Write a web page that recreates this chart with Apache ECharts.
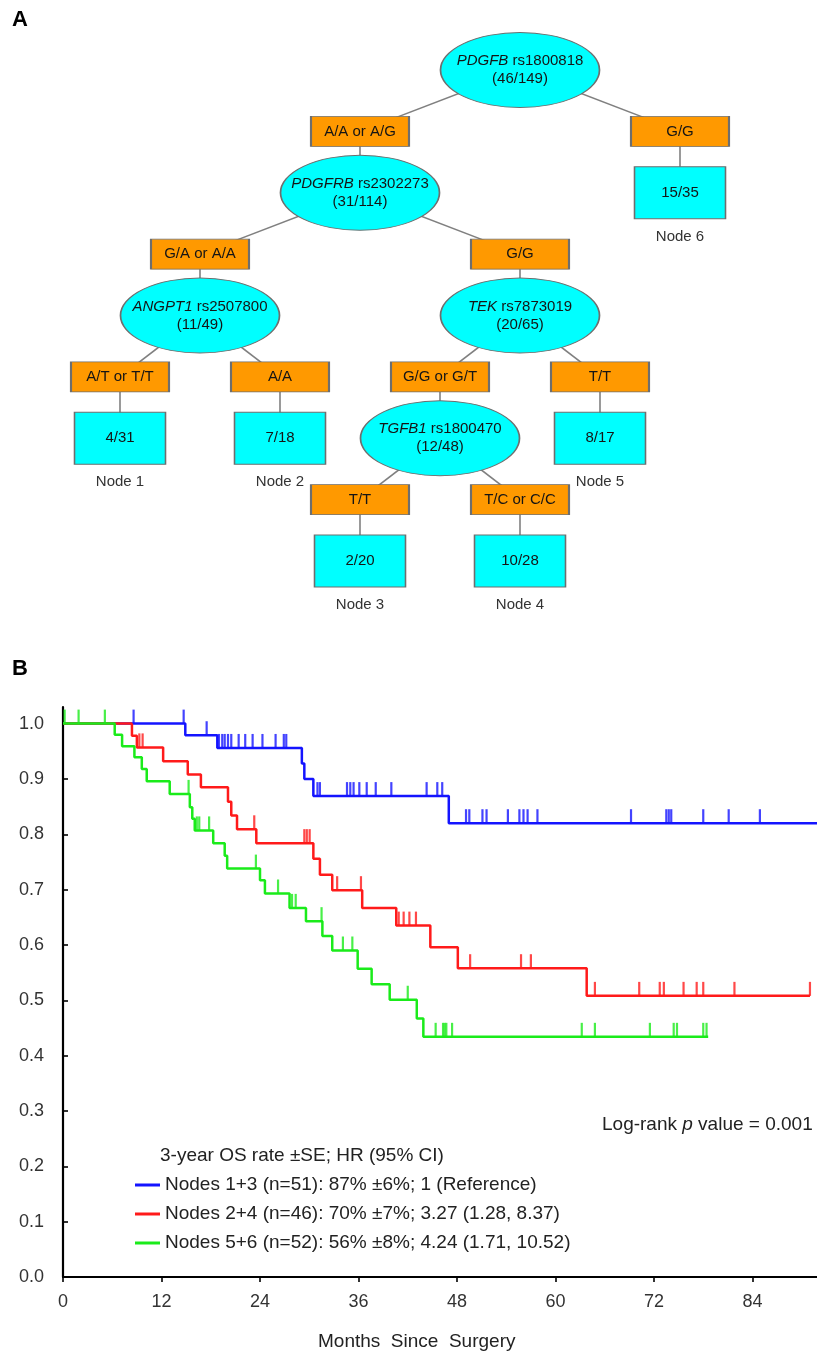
<!DOCTYPE html>
<html><head><meta charset="utf-8">
<script src="https://cdn.jsdelivr.net/npm/echarts@6/dist/echarts.min.js"></script>
<style>html,body{margin:0;padding:0;background:#fff;overflow:hidden;}#c{width:900px;height:1355px;}</style>
</head><body><div id="c"></div>
<script>
// ---------- Panel A: survival tree ----------
const splitGenes  = ['PDGFB', 'PDGFRB', 'ANGPT1', 'TEK', 'TGFB1'];
const splitSnps   = ['rs1800818', 'rs2302273', 'rs2507800', 'rs7873019', 'rs1800470'];
const splitCounts = ['(46/149)', '(31/114)', '(11/49)', '(20/65)', '(12/48)'];
const branchLabels = ['A/A or A/G', 'G/G', 'G/A or A/A', 'G/G', 'A/T or T/T', 'A/A', 'G/G or G/T', 'T/T', 'T/T', 'T/C or C/C'];
const leafCounts = ['4/31', '7/18', '2/20', '10/28', '8/17', '15/35'];
const leafNames  = ['Node 1', 'Node 2', 'Node 3', 'Node 4', 'Node 5', 'Node 6'];

// ---------- Panel B: Kaplan-Meier ----------
const xTicks = [0, 12, 24, 36, 48, 60, 72, 84, 96];
const yTicks = [0, 0.1, 0.2, 0.3, 0.4, 0.5, 0.6, 0.7, 0.8, 0.9, 1.0];
const groupNames = [
  'Nodes 1+3 (n=51): 87% \u00b16%; 1 (Reference)',
  'Nodes 2+4 (n=46): 70% \u00b17%; 3.27 (1.28, 8.37)',
  'Nodes 5+6 (n=52): 56% \u00b18%; 4.24 (1.71, 10.52)'
];
const groupColors = ['#1414ff', '#ff1a1a', '#1aeb1a'];

const blueTimes = [0, 14.9, 18.8, 29.1, 29.4, 30.5, 47.0, 94];
const blueSurv  = [1.0, 0.979, 0.956, 0.928, 0.900, 0.869, 0.820, 0.820];
const blueCensor = [8.6, 14.7, 17.5, 19.0, 19.4, 19.7, 20.1, 20.5, 21.4, 22.2, 23.1, 24.3, 25.9, 26.9, 27.2,
  31.0, 31.3, 34.6, 35.0, 35.4, 36.1, 37.0, 38.1, 40.0, 44.3, 45.6, 46.2,
  49.1, 49.5, 51.1, 51.6, 54.2, 55.6, 56.1, 56.6, 57.8, 69.2, 73.5, 73.8, 74.1, 78.0, 81.1, 84.9];

const redTimes = [0, 8.4, 9.0, 12.2, 15.2, 16.8, 20.1, 20.5, 21.2, 23.55, 30.5, 31.3, 32.8, 36.45, 40.6, 44.75, 48.1, 63.8, 91.0];
const redSurv  = [1.0, 0.978, 0.957, 0.932, 0.908, 0.885, 0.859, 0.834, 0.809, 0.784, 0.756, 0.727, 0.699, 0.667, 0.635, 0.596, 0.558, 0.508, 0.508];
const redCensor = [9.3, 9.7, 23.3, 29.4, 29.7, 30.05, 33.4, 36.3, 40.9, 41.5, 42.2, 43.0, 49.6, 55.8, 57.0,
  64.8, 70.2, 72.7, 73.2, 75.6, 77.2, 78.0, 81.8, 91.0];

const greenTimes = [0, 6.3, 7.2, 8.7, 9.6, 10.2, 13.0, 15.45, 15.75, 16.05, 18.3, 19.7, 20.0, 24.0, 24.6, 27.6, 29.6, 31.6, 32.8, 35.9, 37.6, 39.8, 43.1, 43.9, 78.6];
const greenSurv  = [1.0, 0.980, 0.959, 0.939, 0.918, 0.896, 0.873, 0.849, 0.828, 0.807, 0.784, 0.761, 0.738, 0.717, 0.693, 0.667, 0.643, 0.616, 0.590, 0.557, 0.529, 0.501, 0.467, 0.434, 0.434];
const greenCensor = [0.2, 1.9, 5.1, 15.3, 16.3, 16.6, 17.8, 23.5, 26.2, 27.9, 28.35, 31.5, 34.1, 35.25, 42.0,
  45.4, 46.3, 46.5, 46.7, 47.4, 63.2, 64.8, 71.5, 74.4, 74.8, 78.0, 78.4];

const W = 900;
const FONT = 'Liberation Sans, Arial, Helvetica, sans-serif';

// ---- build tree ----
const ellipsePath = 'path://M0,40 A80,40 0 1,1 160,40 A80,40 0 1,1 0,40 Z';
const borderStyle = { borderColor: '#6e6e6e', borderWidth: 1.2 };
function splitNode(i, children) {
  return {
    name: splitGenes[i], children: children,
    symbol: ellipsePath, symbolSize: [159, 75],
    itemStyle: Object.assign({ color: '#00ffff' }, borderStyle),
    label: { formatter: '{g|' + splitGenes[i] + '}{t| ' + splitSnps[i] + '}\n{t|' + splitCounts[i] + '}' }
  };
}
function branchNode(k, child) {
  return {
    name: branchLabels[k], children: [child],
    symbol: 'rect', symbolSize: [98, 30],
    itemStyle: Object.assign({ color: '#ff9900' }, borderStyle),
    label: { formatter: '{t|' + branchLabels[k] + '}' }
  };
}
// invisible spacer keeps the shallow terminal node clear of the deeper branches (layout only)
function spacer() {
  return { name: '', symbol: 'none', symbolSize: 0, label: { show: false },
    itemStyle: { opacity: 0 }, lineStyle: { opacity: 0, width: 0 } };
}
function leafNode(j, withSpacer) {
  const n = {
    name: leafNames[j],
    symbol: 'rect', symbolSize: [91, 52],
    itemStyle: Object.assign({ color: '#00ffff' }, borderStyle),
    label: { formatter: '{lv|' + leafCounts[j] + '}\n{ln|' + leafNames[j] + '}', offset: [0, 22] }
  };
  if (withSpacer) n.children = [spacer()];
  return n;
}
const treeRoot = splitNode(0, [
  branchNode(0, splitNode(1, [
    branchNode(2, splitNode(2, [branchNode(4, leafNode(0)), branchNode(5, leafNode(1))])),
    branchNode(3, splitNode(3, [
      branchNode(6, splitNode(4, [branchNode(8, leafNode(2)), branchNode(9, leafNode(3))])),
      branchNode(7, leafNode(4))
    ]))
  ])),
  branchNode(1, leafNode(5, true))
]);

// ---- KM helpers ----
function stepData(times, surv) { return times.map((t, i) => [t, surv[i]]); }
function survAt(times, surv, t) {
  let v = surv[0];
  for (let i = 0; i < times.length; i++) if (times[i] <= t) v = surv[i];
  return v;
}
function censorData(times, surv, cens) { return cens.map(t => [t, survAt(times, surv, t)]); }

const groups = [
  [blueTimes, blueSurv, blueCensor],
  [redTimes, redSurv, redCensor],
  [greenTimes, greenSurv, greenCensor]
];
const kmSeries = [];
groups.forEach((g, i) => {
  kmSeries.push({
    type: 'line', name: groupNames[i], step: 'end', showSymbol: false, symbol: 'none',
    data: stepData(g[0], g[1]), xAxisIndex: 0, yAxisIndex: 0,
    itemStyle: { color: groupColors[i] }, lineStyle: { color: groupColors[i], width: 2.5 },
    silent: true, z: 3
  });
  kmSeries.push({
    type: 'scatter', name: 'censor' + i, data: censorData(g[0], g[1], g[2]),
    symbol: 'rect', symbolSize: [2.2, 14], symbolOffset: [0, -7],
    itemStyle: { color: groupColors[i] }, silent: true, z: 3
  });
});

const txt = { fontFamily: FONT, fontSize: 15, color: '#151515' };
const chart = echarts.init(document.getElementById('c'), null, { renderer: 'canvas' });
chart.setOption({
  animation: false,
  backgroundColor: '#ffffff',
  textStyle: { fontFamily: FONT },
  title: [
    { text: 'A', left: 12, top: 8, padding: 0, textStyle: { fontSize: 22, fontWeight: 'bold', color: '#000', fontFamily: FONT, lineHeight: 24 } },
    { text: 'B', left: 12, top: 657, padding: 0, textStyle: { fontSize: 22, fontWeight: 'bold', color: '#000', fontFamily: FONT, lineHeight: 24 } },
    { text: '3-year OS rate \u00b1SE; HR (95% CI)', left: 160, top: 1145, padding: 0,
      textStyle: { fontSize: 19, fontWeight: 'normal', color: '#222', fontFamily: FONT, lineHeight: 22 } },
    { text: '{a|Log-rank }{p|p}{a| value = 0.001}', left: 602, top: 1114, padding: 0,
      textStyle: { fontSize: 19, fontWeight: 'normal', color: '#222', fontFamily: FONT, lineHeight: 22,
        rich: { a: { fontSize: 19, color: '#222', fontFamily: FONT }, p: { fontSize: 19, fontStyle: 'italic', color: '#222', fontFamily: FONT } } } },
    { text: 'Months  Since  Surgery', left: 318, top: 1331, padding: 0,
      textStyle: { fontSize: 19, fontWeight: 'normal', color: '#222', fontFamily: FONT, lineHeight: 22 } }
  ],
  legend: {
    data: groupNames, orient: 'vertical', left: 130, top: 1170,
    itemWidth: 25, itemHeight: 3, itemGap: 9, icon: 'rect', selectedMode: false,
    textStyle: { fontSize: 19, lineHeight: 20, color: '#222', fontFamily: FONT }
  },
  grid: { left: 63, top: 707, width: 788, height: 570, containLabel: false },
  xAxis: {
    type: 'value', min: 0, max: 96, interval: 12,
    axisLine: { lineStyle: { color: '#000', width: 2.2 } },
    axisTick: { show: true, length: 5, inside: false, lineStyle: { color: '#000', width: 1.6 }, customValues: xTicks },
    axisLabel: { fontSize: 18, color: '#333', margin: 16, fontFamily: FONT, customValues: xTicks },
    splitLine: { show: false }
  },
  yAxis: {
    type: 'value', min: 0, max: 1.03,
    axisLine: { show: true, lineStyle: { color: '#000', width: 2.2 } },
    axisTick: { show: true, length: 5, inside: true, lineStyle: { color: '#000', width: 1.6 }, customValues: yTicks },
    axisLabel: { fontSize: 18, color: '#333', margin: 19, fontFamily: FONT, customValues: yTicks,
      formatter: v => (Math.abs(v * 10 - Math.round(v * 10)) < 1e-6 ? v.toFixed(1) : '') },
    splitLine: { show: false }
  },
  series: [{
    type: 'tree', data: [treeRoot], orient: 'TB', layout: 'orthogonal',
    left: 40, right: W - 760, top: 70, bottom: 1355 - 561,
    edgeShape: 'curve', expandAndCollapse: false, initialTreeDepth: -1, roam: false, silent: true,
    lineStyle: { color: '#808080', width: 1.6, curveness: 0 },
    label: {
      show: true, position: 'inside', align: 'center', verticalAlign: 'middle',
      rich: {
        g: Object.assign({ fontStyle: 'italic', lineHeight: 18 }, txt),
        t: Object.assign({ lineHeight: 18 }, txt),
        lv: Object.assign({ lineHeight: 44 }, txt),
        ln: Object.assign({ lineHeight: 44 }, txt, { color: '#333' })
      }
    },
    leaves: { label: { position: 'inside', align: 'center', verticalAlign: 'middle' } },
    emphasis: { disabled: true }
  }].concat(kmSeries)
});
</script>
</body></html>
